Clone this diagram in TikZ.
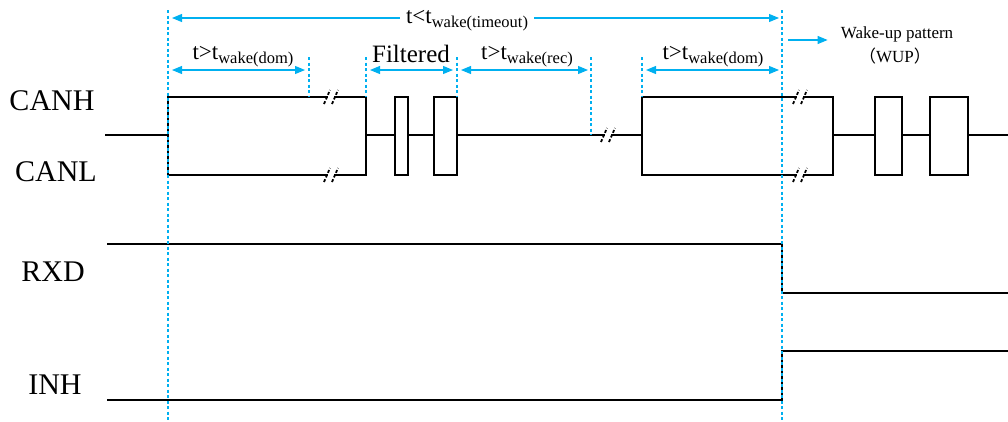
\documentclass[tikz,border=0pt]{standalone}
\usepackage{fontspec}
\setmainfont{Liberation Serif}
\newfontfamily\cjk{Noto Sans CJK SC}
\usetikzlibrary{arrows.meta,
	calc,
	positioning}
\definecolor{markblue}{RGB}{0,176,240}
\newcommand{\twake}[1]{t\raisebox{-4pt}{\fontsize{16.5}{18}\selectfont wake(#1)}}
\newcommand{\breakmark}[2]{%
	\fill[white] (#1-3,#2-2) rectangle (#1+3,#2+2);
	\draw[cutmark] (#1-7,#2+7) -- (#1-1,#2-7);
	\draw[cutmark] (#1+1,#2+7) -- (#1+7,#2-7);}

\begin{document}
\begin{tikzpicture}[x=1pt,y=-1pt,
		sig/.style={line width=2.8pt, black},
		cutmark/.style={line width=1.8pt, black, dash pattern=on 3pt off 2pt},
		marker/.style={line width=1.6pt, markblue, dash pattern=on 3pt off 2.5pt},
		dim/.style={line width=1.1pt, markblue, {Triangle[length=10pt,width=8pt]}-{Triangle[length=10pt,width=8pt]}},
		dimr/.style={line width=1.1pt, markblue, -{Triangle[length=10pt,width=8pt]}},
		lbl/.style={font=\fontsize{30}{32}\selectfont, inner sep=0pt},
		tlbl/.style={font=\fontsize{23}{26}\selectfont, inner sep=0pt, anchor=base}]
	\useasboundingbox (0,0) rectangle (1008,421);
	% signal names
	\node [lbl] (canh) at (52,101) {CANH};
	\node [lbl] (canl) at (56,172) {CANL};
	\node [lbl] (rxd) at (53,272) {RXD};
	\node [lbl] (inh) at (55,385) {INH};
	% CANH / CANL
	\draw [sig] (105,135) -- (168,135);
	\draw [sig] (168,97) rectangle (366,175);
	\breakmark{331}{97}
	\breakmark{331}{175}
	\draw [sig] (366,135) -- (395,135);
	\draw [sig] (395,97) rectangle (408,175);
	\draw [sig] (408,135) -- (434,135);
	\draw [sig] (434,97) rectangle (457,175);
	\draw [sig] (457,135) -- (642,135);
	\breakmark{608}{135}
	\draw [sig] (642,97) rectangle (833,175);
	\breakmark{800}{97}
	\breakmark{800}{175}
	\draw [sig] (833,135) -- (875,135);
	\draw [sig] (875,97) rectangle (902,175);
	\draw [sig] (902,135) -- (930,135);
	\draw [sig] (930,97) rectangle (968,175);
	\draw [sig] (968,135) -- (1008,135);
	% RXD / INH
	\draw [sig] (107,244) -- (782,244) -- (782,293) -- (1008,293);
	\draw [sig] (107,400) -- (782,400) -- (782,351) -- (1008,351);
	% time markers
	\draw [marker] (168,10) -- (168,421);
	\draw [marker] (782,10) -- (782,421);
	\foreach \x/\y in {309/97, 366/97, 457/97, 591/135, 642/97}
		\draw [marker] (\x,57) -- (\x,\y);
	% timing labels
	\node [tlbl] (timeout) at (467,23) {t<\twake{timeout}};
	\coordinate (tl) at (172,18);
	\coordinate (tr) at (779,18);
	\draw [dimr] (timeout.west |- tl) ++(-6,0) -- (tl);
	\draw [dimr] (timeout.east |- tr) ++(6,0) -- (tr);
	\node [tlbl] (dom1) at (243,59) {t>\twake{dom}};
	\draw [dim] (172,70) -- (305,70);
	\node [tlbl, font=\fontsize{25}{28}\selectfont] (filt) at (411,62) {Filtered};
	\draw [dim] (370,70) -- (453,70);
	\node [tlbl] (rec) at (527,59) {t>\twake{rec}};
	\draw [dim] (461,70) -- (588,70);
	\node [tlbl] (dom2) at (713,59) {t>\twake{dom}};
	\draw [dim] (646,70) -- (779,70);
	% wake-up pattern
	\node [anchor=base, inner sep=0pt, font=\fontsize{17}{19}\selectfont] (wup) at (897,38) {Wake-up pattern};
	\node [anchor=base, inner sep=0pt, font=\fontsize{17}{19}\selectfont] (wupa) at (895,62) {{\cjk （}WUP{\cjk ）}};
	\draw [dimr] (788,40) -- ($(wup.base west)+(-13,2)$);
\end{tikzpicture}
\end{document}
